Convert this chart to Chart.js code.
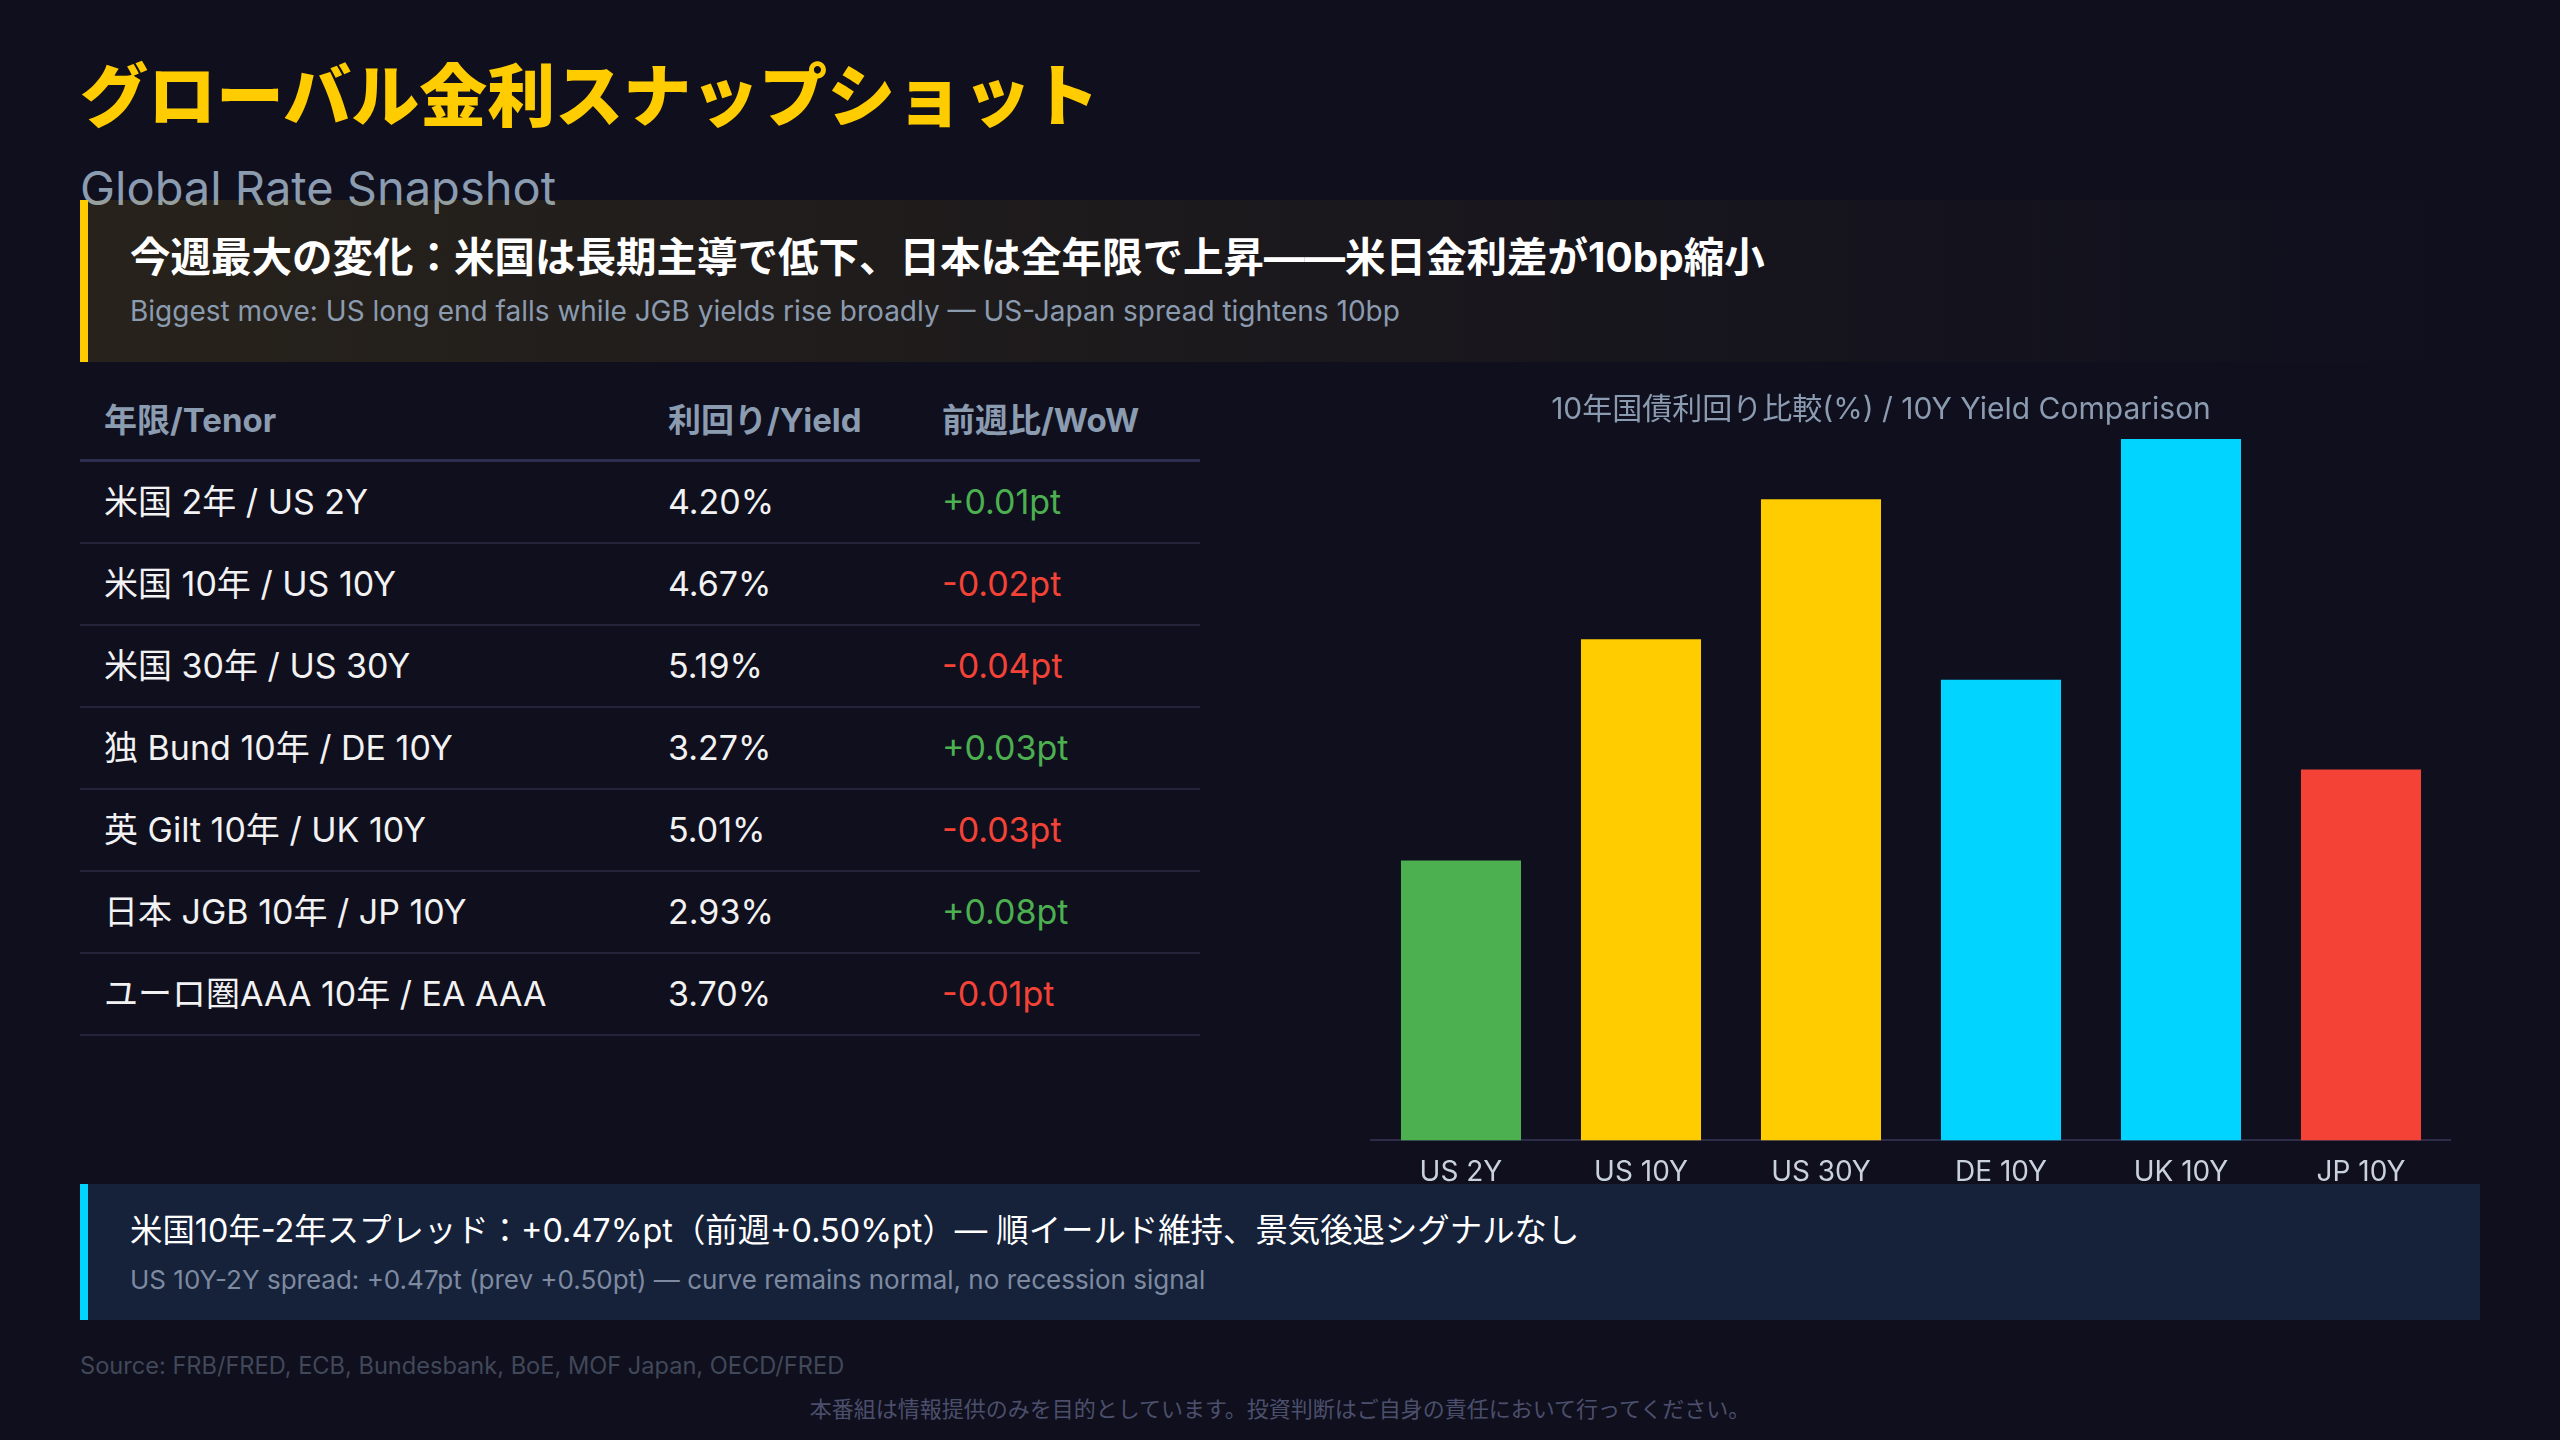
<!DOCTYPE html>
<html lang="ja">
<head>
<meta charset="utf-8">
<title>グローバル金利スナップショット</title>
<script src="https://cdn.jsdelivr.net/npm/chart.js@4.4.0/dist/chart.umd.min.js"></script>
<style>
  html, body { margin: 0; padding: 0; }
  body {
    width: 2560px; height: 1440px; overflow: hidden; position: relative;
    background: #0f0f1e;
    font-family: Inter, "Noto Sans CJK JP", sans-serif;
    color: #ffffff;
  }
  .abs { position: absolute; }
  #title { left: 80px; top: 58px; font-size: 68px; font-weight: 900; color: #ffcc00; line-height: 1; font-family: "Noto Sans CJK JP", sans-serif; }
  #subtitle { left: 80px; top: 160px; font-size: 47px; color: #8b9bb0; line-height: 1.2; }
  #callout {
    left: 80px; top: 200px; width: 2400px; height: 162px; box-sizing: border-box;
    border-left: 8px solid #ffcc00;
    background: linear-gradient(90deg, rgba(255,204,0,0.10) 0%, rgba(255,204,0,0.05) 50%, rgba(255,204,0,0) 100%);
  }
  #callout .main { position: absolute; left: 42px; top: 34px; font-size: 40.5px; font-weight: 700; color: #ffffff; white-space: nowrap; line-height: 1.2; }
  #callout .sub { position: absolute; left: 42px; top: 95px; font-size: 28px; color: #8b9bb0; white-space: nowrap; line-height: 1.2; }

  #table { left: 80px; top: 380px; width: 1120px; }
  .row { position: relative; height: 80px; border-bottom: 2px solid #23233a; }
  .row.head { border-bottom: 3px solid #2e2e50; height: 79px; }
  .cell { position: absolute; top: 0; line-height: 80px; white-space: nowrap; font-size: 34px; color: #f2f2f2; }
  .head .cell { font-size: 33px; font-weight: 700; color: #8b9bb0; }
  .c0 { left: 24px; } .c1 { left: 588px; } .c2 { left: 862px; }
  .up { color: #4caf50 !important; } .down { color: #f44336 !important; }

  #chartBox { left: 1311px; top: 385px; width: 1140px; height: 819px; }

  #spread {
    left: 80px; top: 1184px; width: 2400px; height: 136px; box-sizing: border-box;
    border-left: 8px solid #00d4ff; background: #16213a;
  }
  #spread .main { position: absolute; left: 42px; top: 28px; font-size: 32.4px; color: #ffffff; white-space: nowrap; line-height: 1.2; }
  #spread .sub { position: absolute; left: 42px; top: 80px; font-size: 26px; color: #7d8aa0; white-space: nowrap; line-height: 1.2; }

  #source { left: 80px; top: 1352px; font-size: 23.6px; color: #414859; line-height: 1.2; }
  #disclaimer { left: 0; width: 2560px; text-align: center; top: 1394px; font-size: 22px; color: #4c4f6c; line-height: 1.2; font-family: "Noto Sans CJK JP", sans-serif; }
</style>
</head>
<body>
<div id="title" class="abs">グローバル金利スナップショット</div>
<div id="subtitle" class="abs">Global Rate Snapshot</div>
<div id="callout" class="abs">
  <div class="main">今週最大の変化：米国は長期主導で低下、日本は全年限で上昇——米日金利差が10bp縮小</div>
  <div class="sub">Biggest move: US long end falls while JGB yields rise broadly — US-Japan spread tightens 10bp</div>
</div>

<div id="table" class="abs"></div>

<div id="chartBox" class="abs"><canvas id="chart"></canvas></div>

<div id="spread" class="abs">
  <div class="main">米国10年-2年スプレッド：+0.47%pt（前週+0.50%pt）— 順イールド維持、景気後退シグナルなし</div>
  <div class="sub">US 10Y-2Y spread: +0.47pt (prev +0.50pt) — curve remains normal, no recession signal</div>
</div>

<div id="source" class="abs">Source: FRB/FRED, ECB, Bundesbank, BoE, MOF Japan, OECD/FRED</div>
<div id="disclaimer" class="abs">本番組は情報提供のみを目的としています。投資判断はご自身の責任において行ってください。</div>

<script>
// テーブルのデータ
const tableHeaders = ['年限/Tenor', '利回り/Yield', '前週比/WoW'];
const tenors = ['米国 2年 / US 2Y', '米国 10年 / US 10Y', '米国 30年 / US 30Y', '独 Bund 10年 / DE 10Y',
                '英 Gilt 10年 / UK 10Y', '日本 JGB 10年 / JP 10Y', 'ユーロ圏AAA 10年 / EA AAA'];
const yields = [4.20, 4.67, 5.19, 3.27, 5.01, 2.93, 3.70];
const wow = [0.01, -0.02, -0.04, 0.03, -0.03, 0.08, -0.01];

// グラフのデータ
const chartLabels = ['US 2Y', 'US 10Y', 'US 30Y', 'DE 10Y', 'UK 10Y', 'JP 10Y'];
const chartValues = [2.00, 3.58, 4.58, 3.29, 5.01, 2.65];
const barColors = ['#4caf50', '#ffcc00', '#ffcc00', '#00d4ff', '#00d4ff', '#f44336'];

// --- テーブル作成 ---
const table = document.getElementById('table');
const makeRow = (cells, cls) => {
    const row = document.createElement('div');
    row.className = 'row' + (cls ? ' ' + cls : '');
    cells.forEach((c, i) => {
        const d = document.createElement('div');
        d.className = 'cell c' + i + (c.cls ? ' ' + c.cls : '');
        d.textContent = c.text;
        row.appendChild(d);
    });
    table.appendChild(row);
};
makeRow(tableHeaders.map(t => ({ text: t })), 'head');
tenors.forEach((t, i) => {
    const w = wow[i];
    makeRow([
        { text: t },
        { text: yields[i].toFixed(2) + '%' },
        { text: (w >= 0 ? '+' : '') + w.toFixed(2) + 'pt', cls: w >= 0 ? 'up' : 'down' }
    ]);
});

// --- グラフ ---
const font = 'Inter, "Noto Sans CJK JP", sans-serif';
new Chart(document.getElementById('chart').getContext('2d'), {
    type: 'bar',
    data: {
        labels: chartLabels,
        datasets: [{
            data: chartValues,
            backgroundColor: barColors,
            borderWidth: 0,
            categoryPercentage: 1.0,
            barPercentage: 0.667
        }]
    },
    options: {
        responsive: true,
        maintainAspectRatio: false,
        animation: false,
        devicePixelRatio: 1,
        layout: { padding: { left: 0, right: 0, top: 0, bottom: 0 } },
        plugins: {
            legend: { display: false },
            tooltip: { enabled: false },
            title: {
                display: true,
                text: '10年国債利回り比較(%) / 10Y Yield Comparison',
                color: '#8b9bb0',
                font: { family: font, size: 30, weight: 'normal' },
                padding: { top: 7, bottom: 11 }
            }
        },
        scales: {
            x: {
                grid: { display: false, drawTicks: false },
                border: { display: true, color: '#2c2c48', width: 2 },
                ticks: { color: '#c9d1dc', font: { family: font, size: 28 }, padding: 15 }
            },
            y: {
                // 見えない軸 (左側の余白用)
                min: 0,
                max: Math.max(...chartValues),
                grid: { display: false },
                border: { display: false },
                ticks: { display: false },
                afterFit: scale => { scale.width = 60; }
            }
        }
    }
});
</script>
</body>
</html>
